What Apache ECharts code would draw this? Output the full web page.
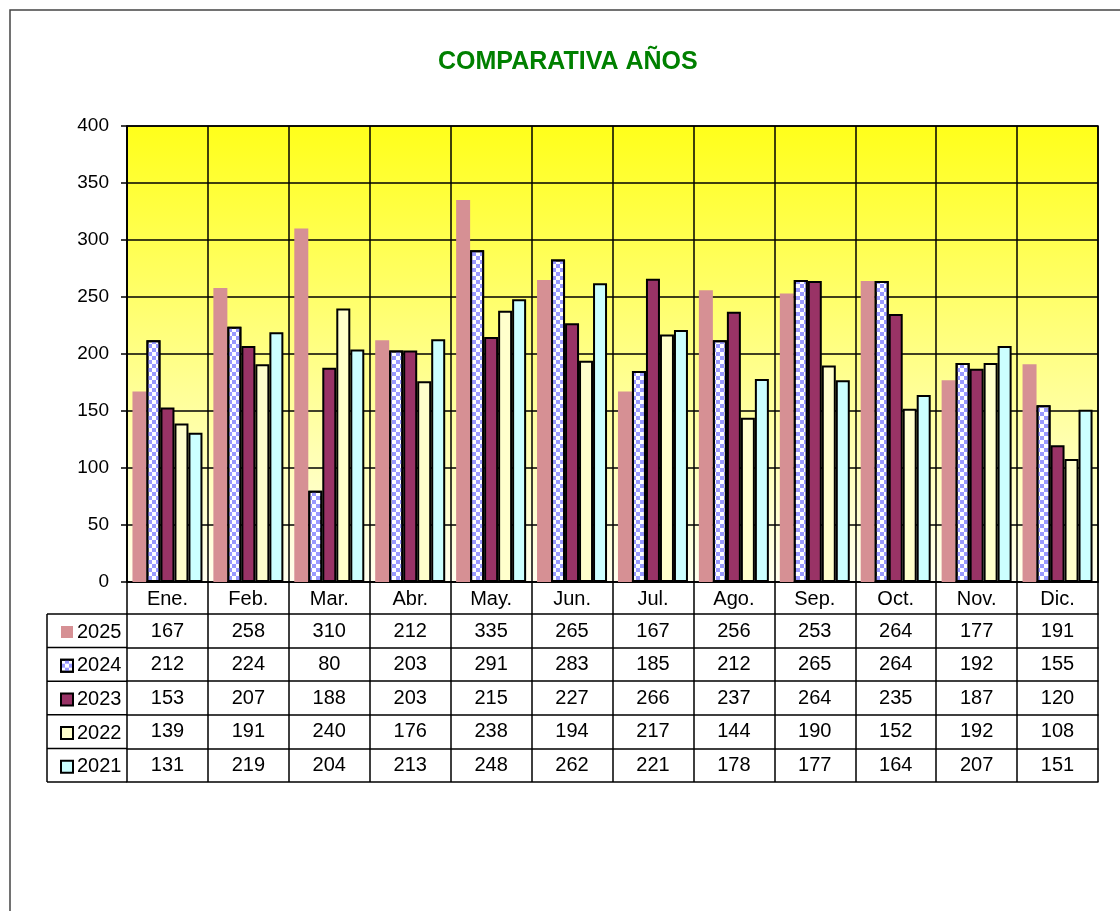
<!DOCTYPE html>
<html>
<head>
<meta charset="utf-8">
<title>Comparativa años</title>
<script src="https://cdn.jsdelivr.net/npm/echarts@6/dist/echarts.min.js"></script>
<style>
  html, body { margin: 0; padding: 0; background: #fff; }
  #main { width: 1120px; height: 911px; }
</style>
</head>
<body>
<div id="main"></div>
<script>
// datos
var months = ['Ene.', 'Feb.', 'Mar.', 'Abr.', 'May.', 'Jun.', 'Jul.', 'Ago.', 'Sep.', 'Oct.', 'Nov.', 'Dic.'];
var years = ['2025', '2024', '2023', '2022', '2021'];
var v2025 = [167, 258, 310, 212, 335, 265, 167, 256, 253, 264, 177, 191];
var v2024 = [212, 224, 80, 203, 291, 283, 185, 212, 265, 264, 192, 155];
var v2023 = [153, 207, 188, 203, 215, 227, 266, 237, 264, 235, 187, 120];
var v2022 = [139, 191, 240, 176, 238, 194, 217, 144, 190, 152, 192, 108];
var v2021 = [131, 219, 204, 213, 248, 262, 221, 178, 177, 164, 207, 151];
var yMin = 0, yMax = 400, yStep = 50;

var rows = [v2025, v2024, v2023, v2022, v2021];
var colors = ['#d69094', '#ffffff', '#993366', '#ffffcc', '#ccffff'];

// layout
var gridL = 127, gridR = 22, gridT = 126, gridB = 329;
var headH = 32, rowH = 33.6, tableL = 47;
var tableTop = 911 - gridB + headH;
var font = "'Liberation Sans', Arial, sans-serif";

var checker = {
    symbol: 'rect', symbolSize: 1, symbolKeepAspect: false,
    color: '#9999ff',
    dashArrayX: [[4, 4], [0, 4, 4, 0]],
    dashArrayY: [4, 0],
    rotation: 0
};

var xAxes = [{
    type: 'category', data: months, position: 'bottom',
    axisLine: { lineStyle: { color: '#000', width: 1.5 } },
    axisTick: { show: true, length: headH, lineStyle: { color: '#000', width: 1.5 } },
    axisLabel: { interval: 0, fontSize: 20, color: '#000', fontFamily: font, margin: 7 },
    splitLine: { show: true, lineStyle: { color: '#000', width: 1.5 } }
}];
// tabla de datos: un eje por fila
rows.forEach(function (r, k) {
    xAxes.push({
        type: 'category', data: months, position: 'bottom', offset: headH + k * rowH,
        axisLine: { show: true, lineStyle: { color: '#000', width: 1.5 } },
        axisTick: { show: true, length: rowH, lineStyle: { color: '#000', width: 1.5 } },
        axisLabel: {
            interval: 0, fontSize: 20, color: '#000', fontFamily: font, margin: 7,
            formatter: function (v, i) { return String(r[i]); }
        },
        splitLine: { show: false }
    });
});
xAxes.push({
    type: 'category', data: months, position: 'bottom', offset: headH + rows.length * rowH,
    axisLine: { show: true, lineStyle: { color: '#000', width: 1.5 } },
    axisTick: { show: false }, axisLabel: { show: false }, splitLine: { show: false }
});

// columna izquierda de la tabla
var leftCol = [{
    type: 'line',
    shape: { x1: tableL, y1: tableTop, x2: tableL, y2: tableTop + rows.length * rowH },
    style: { stroke: '#000', lineWidth: 1.5 }
}];
for (var k = 0; k <= rows.length; k++) {
    leftCol.push({
        type: 'line',
        shape: { x1: tableL, y1: tableTop + k * rowH, x2: gridL, y2: tableTop + k * rowH },
        style: { stroke: '#000', lineWidth: 1.5 }
    });
}

var myChart = echarts.init(document.getElementById('main'));

var option = {
    animation: false,
    backgroundColor: '#fff',
    title: {
        text: 'COMPARATIVA AÑOS',
        left: 433, top: 45,
        textStyle: { color: '#008000', fontSize: 25, fontWeight: 'bold', fontFamily: font }
    },
    legend: {
        orient: 'vertical', left: 55, top: tableTop + 3,
        itemWidth: 12, itemHeight: 12, itemGap: rowH - 19.9,
        icon: 'rect',
        textStyle: { fontSize: 20, color: '#000', fontFamily: font, lineHeight: 20, padding: [0, 0, 0, -1] },
        data: years
    },
    grid: {
        left: gridL, right: gridR, top: gridT, bottom: gridB,
        show: true, borderColor: '#000', borderWidth: 1.5,
        backgroundColor: new echarts.graphic.LinearGradient(0, 0, 0, 1, [
            { offset: 0, color: '#ffff1a' },
            { offset: 1, color: '#fffff0' }
        ])
    },
    xAxis: xAxes,
    yAxis: {
        type: 'value', min: yMin, max: yMax, interval: yStep,
        axisLine: { show: true, lineStyle: { color: '#000', width: 1.5 } },
        axisTick: { show: true, length: 6, lineStyle: { color: '#000', width: 1.5 } },
        axisLabel: { fontSize: 19, color: '#000', fontFamily: font, margin: 18 },
        splitLine: { show: true, lineStyle: { color: '#000', width: 1.5 } }
    },
    series: years.map(function (y, k) {
        return {
            name: y, type: 'bar', data: rows[k],
            barGap: '0%', barCategoryGap: '13.5%',
            itemStyle: {
                color: colors[k],
                borderColor: '#000',
                borderWidth: k === 0 ? 0 : 2,
                decal: k === 1 ? checker : null
            }
        };
    }),
    graphic: [{
        type: 'rect',
        shape: { x: 10, y: 10, width: 1130, height: 930 },
        style: { fill: 'none', stroke: '#444', lineWidth: 1.5 }
    }].concat(leftCol)
};

myChart.setOption(option);
</script>
</body>
</html>
